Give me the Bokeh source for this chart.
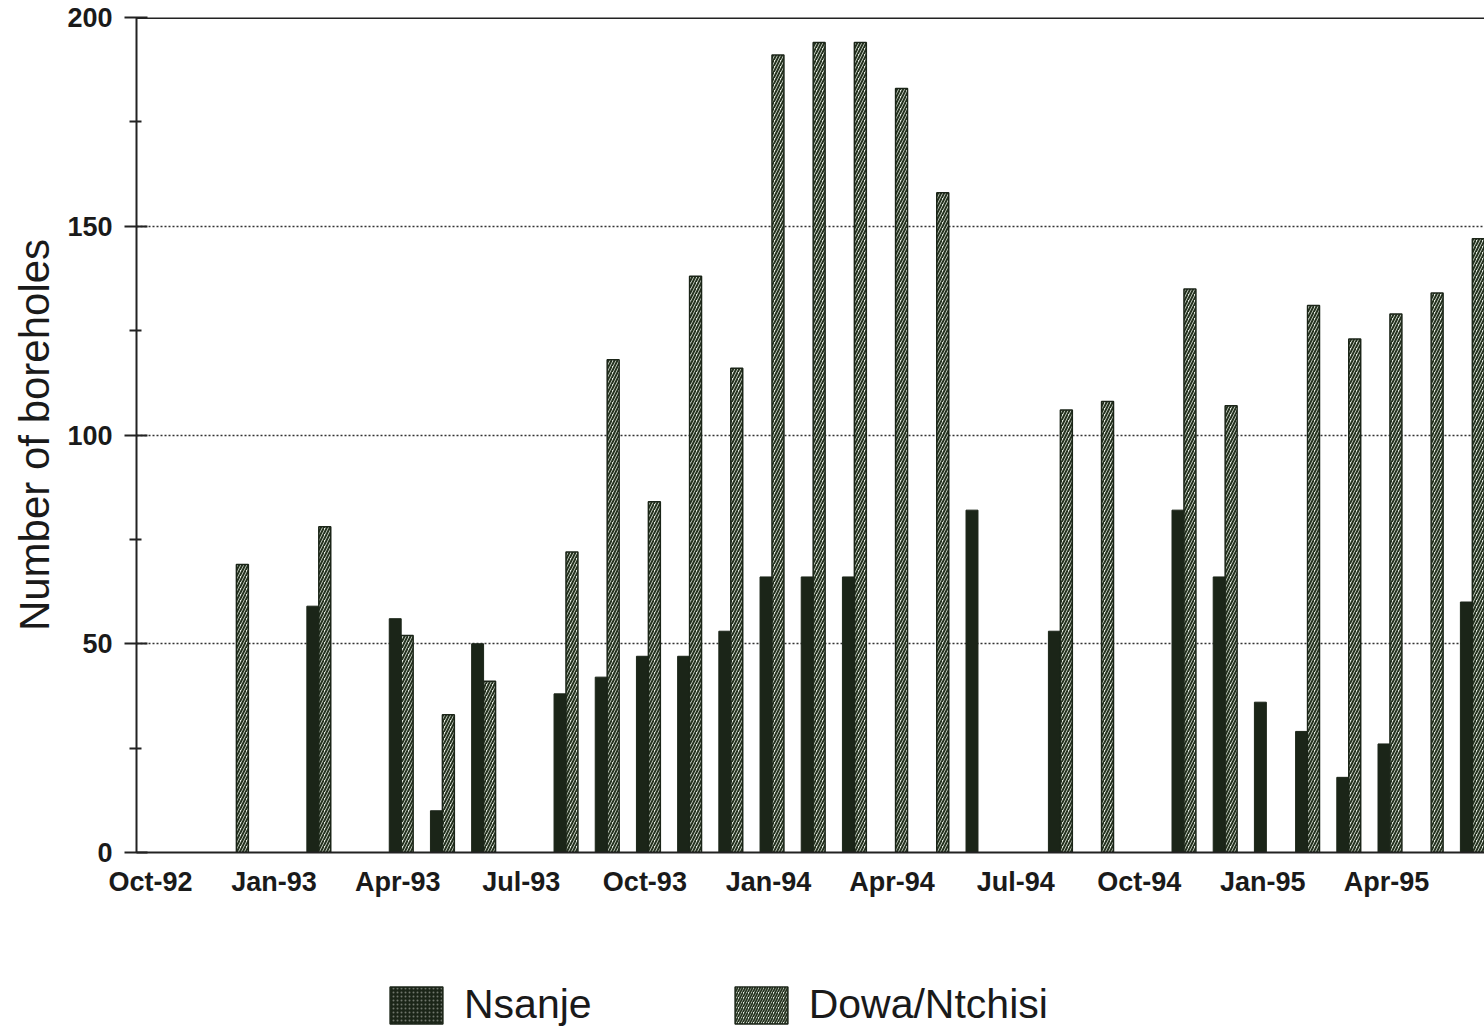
from bokeh.plotting import figure
from bokeh.layouts import column
from bokeh.models import (Range1d, FixedTicker, Span, Legend, LegendItem,
                          ColumnDataSource)
from bokeh.embed import file_html
from bokeh.resources import INLINE

# ---- data -------------------------------------------------------------
months = ["Oct-92", "Nov-92", "Dec-92", "Jan-93", "Feb-93", "Mar-93",
          "Apr-93", "May-93", "Jun-93", "Jul-93", "Aug-93", "Sep-93",
          "Oct-93", "Nov-93", "Dec-93", "Jan-94", "Feb-94", "Mar-94",
          "Apr-94", "May-94", "Jun-94", "Jul-94", "Aug-94", "Sep-94",
          "Oct-94", "Nov-94", "Dec-94", "Jan-95", "Feb-95", "Mar-95",
          "Apr-95", "May-95", "Jun-95"]
nsanje = [0, 0, 0, 0, 59, 0, 56, 10, 50, 0, 38, 42, 47, 47, 53, 66, 66, 66,
          0, 0, 82, 0, 53, 0, 0, 82, 66, 36, 29, 18, 26, 0, 60]
dowa = [0, 0, 69, 0, 78, 0, 52, 33, 41, 0, 72, 118, 84, 138, 116, 191, 194,
        194, 183, 158, 0, 0, 106, 108, 0, 135, 107, 0, 131, 123, 129, 134, 147]
tick_labels = ["Oct-92", "Jan-93", "Apr-93", "Jul-93", "Oct-93", "Jan-94",
               "Apr-94", "Jul-94", "Oct-94", "Jan-95", "Apr-95"]
y_ticks = [0, 50, 100, 150, 200]
y_minor = [25, 75, 125, 175]
series_names = ["Nsanje", "Dowa/Ntchisi"]

# ---- styles -----------------------------------------------------------
FONT = "Liberation Sans"
TXT = "#1a1a1a"
DARK = "#1b2518"
N_STYLE = dict(fill_color=DARK, line_color=DARK, line_width=1)
D_STYLE = dict(fill_color="#e6ede4", hatch_pattern="/", hatch_color="#25321f",
               hatch_scale=6, hatch_weight=2.0,
               line_color=DARK, line_width=1.5)

tick_pos = [months.index(m) for m in tick_labels]

src_n = ColumnDataSource(dict(
    x=[i - 0.06 for i, v in enumerate(nsanje) if v > 0],
    top=[v for v in nsanje if v > 0]))
src_d = ColumnDataSource(dict(
    x=[i + 0.23 for i, v in enumerate(dowa) if v > 0],
    top=[v for v in dowa if v > 0]))

p = figure(width=1484, height=930, output_backend="svg",
           toolbar_location=None, tools="",
           x_range=Range1d(-0.34, 32.38), y_range=Range1d(0, 200))
p.min_border_left = 136
p.min_border_right = 0
p.min_border_top = 17
p.min_border_bottom = 78
p.outline_line_color = None
p.background_fill_color = "white"
p.border_fill_color = "white"

p.vbar(x="x", top="top", bottom=0, width=0.29, source=src_n, **N_STYLE)
p.vbar(x="x", top="top", bottom=0, width=0.29, source=src_d, **D_STYLE)

# axes
xa = p.xaxis[0]
xa.ticker = FixedTicker(ticks=tick_pos)
xa.major_label_overrides = {i: m for i, m in zip(tick_pos, tick_labels)}
xa.major_tick_in = 0
xa.major_tick_out = 0
xa.minor_tick_in = 0
xa.minor_tick_out = 0
xa.major_label_standoff = 14
xa.major_label_text_font = FONT
xa.major_label_text_font_size = "27px"
xa.major_label_text_font_style = "bold"
xa.major_label_text_color = TXT
xa.axis_line_color = "#222222"
xa.axis_line_width = 2

ya = p.yaxis[0]
ya.ticker = FixedTicker(ticks=y_ticks, minor_ticks=y_minor)
ya.major_tick_in = 11
ya.major_tick_out = 12
ya.minor_tick_in = 5
ya.minor_tick_out = 7
ya.major_tick_line_color = "#222222"
ya.minor_tick_line_color = "#222222"
ya.major_tick_line_width = 2
ya.minor_tick_line_width = 2
ya.axis_line_color = "#222222"
ya.axis_line_width = 2
ya.major_label_standoff = 12
ya.major_label_text_font = FONT
ya.major_label_text_font_size = "27px"
ya.major_label_text_font_style = "bold"
ya.major_label_text_color = TXT
ya.axis_label = "Number of boreholes"
ya.axis_label_text_font = FONT
ya.axis_label_text_font_size = "42px"
ya.axis_label_text_font_style = "normal"
ya.axis_label_text_color = TXT
ya.axis_label_standoff = 6

p.xgrid.visible = False
p.ygrid.ticker = FixedTicker(ticks=[50, 100, 150])
p.ygrid.grid_line_color = "#333333"
p.ygrid.grid_line_width = 1.5
p.ygrid.grid_line_dash = "2 2"

p.add_layout(Span(location=200, dimension="width", line_color="#222222",
                  line_width=3))

# ---- legend strip below the chart --------------------------------------
lg = figure(width=1484, height=100, output_backend="svg",
            toolbar_location=None, tools="",
            x_range=Range1d(0, 1), y_range=Range1d(0, 1))
lg.min_border_left = 136
lg.min_border_right = 0
lg.min_border_top = 0
lg.min_border_bottom = 0
lg.axis.visible = False
lg.grid.visible = False
lg.outline_line_color = None
lg.border_fill_color = "white"
# swatch-only renderers (a single undrawable NaN bar each)
nan = float("nan")
ln = lg.vbar(x=[nan], bottom=[nan], top=[nan], width=0.1, fill_color=DARK,
             line_color=DARK, line_width=1.5, hatch_pattern=".",
             hatch_color="#6f766c", hatch_scale=4, hatch_weight=1.5)
ld = lg.vbar(x=[nan], bottom=[nan], top=[nan], width=0.1,
             fill_color="#e6ede4", hatch_pattern="/", hatch_color="#25321f",
             hatch_scale=5, hatch_weight=1.8, line_color=DARK, line_width=1.5)
legend = Legend(items=[LegendItem(label=series_names[0], renderers=[ln]),
                       LegendItem(label=series_names[1], renderers=[ld])],
                orientation="horizontal", location=(247, 2),
                glyph_width=66, glyph_height=46, label_standoff=15,
                spacing=136, padding=0, margin=0,
                border_line_color=None, background_fill_alpha=0,
                label_text_font=FONT, label_text_font_size="41px",
                label_text_color=TXT)
lg.add_layout(legend)

open("out.html", "w").write(file_html(column(p, lg), INLINE))
